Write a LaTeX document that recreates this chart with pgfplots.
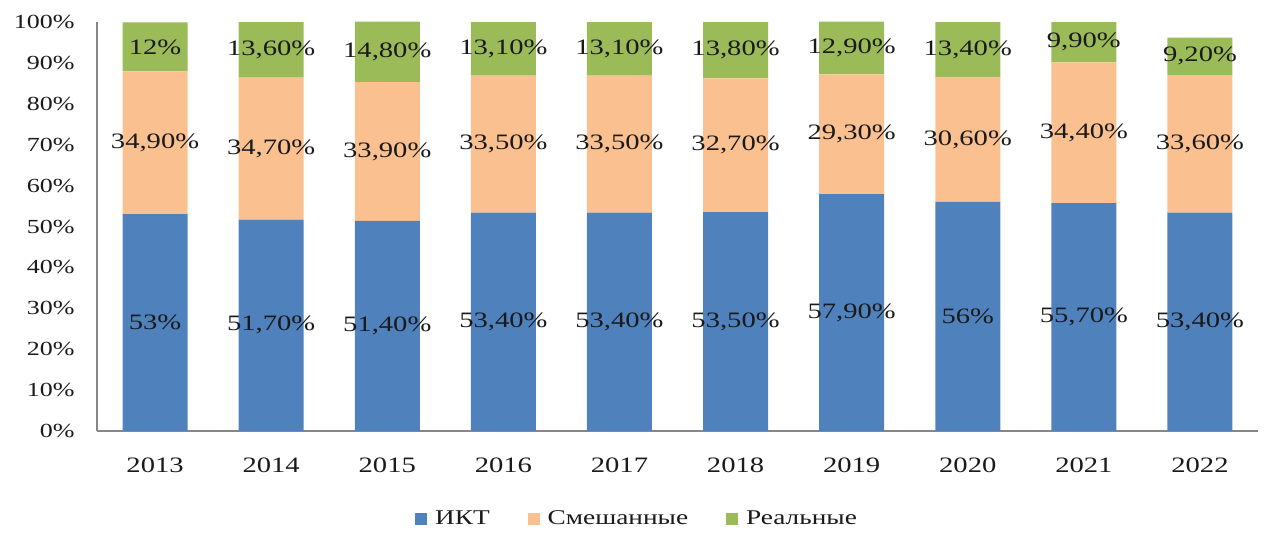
\documentclass[border=0pt]{standalone}
\usepackage{pgfplots}
\usepackage{pgfplotstable}
\usepackage{fontspec}
\setmainfont{Liberation Serif}[FakeStretch=1.3]
\pgfplotsset{compat=1.18}
\definecolor{cikt}{HTML}{4F81BD}
\definecolor{csme}{HTML}{FAC090}
\definecolor{creal}{HTML}{9BBB59}
\definecolor{caxis}{HTML}{878787}
\definecolor{ctext}{HTML}{1A1A1A}
\pgfplotstableread{
x y label
0 53.0 53
1 51.7 51,70
2 51.4 51,40
3 53.4 53,40
4 53.4 53,40
5 53.5 53,50
6 57.9 57,90
7 56.0 56
8 55.7 55,70
9 53.4 53,40
}\ikt
\pgfplotstableread{
x y label
0 34.9 34,90
1 34.7 34,70
2 33.9 33,90
3 33.5 33,50
4 33.5 33,50
5 32.7 32,70
6 29.3 29,30
7 30.6 30,60
8 34.4 34,40
9 33.6 33,60
}\sme
\pgfplotstableread{
x y label
0 12.0 12
1 13.6 13,60
2 14.8 14,80
3 13.1 13,10
4 13.1 13,10
5 13.8 13,80
6 12.9 12,90
7 13.4 13,40
8 9.9 9,90
9 9.2 9,20
}\real
\begin{document}
\begin{tikzpicture}
\path[use as bounding box] (0,0) rectangle (643bp,272bp);
\begin{axis}[
  at={(48.5bp,56.5bp)}, anchor=south west,
  scale only axis, width=580.5bp, height=204.7bp,
  ybar stacked, bar width=32.5bp,
  xmin=-0.5, xmax=9.5, ymin=0, ymax=100.1,
  xtick={0,...,9},
  xticklabels={2013,2014,2015,2016,2017,2018,2019,2020,2021,2022},
  ytick={0,10,...,100},
  yticklabels={0\%,10\%,20\%,30\%,40\%,50\%,60\%,70\%,80\%,90\%,100\%},
  axis x line*=bottom, axis y line*=left,
  axis line style={caxis, line width=1pt, -},
  major tick length=0pt,
  tick style={draw=none},
  xticklabel style={font=\fontsize{11bp}{13bp}\selectfont, text=ctext, inner sep=0pt, anchor=north, yshift=-13bp},
  yticklabel style={font=\fontsize{10bp}{12bp}\selectfont, text=ctext, inner sep=0pt, anchor=east, xshift=-11bp},
  point meta=explicit symbolic,
  nodes near coords={\pgfplotspointmeta\%},
  every node near coord/.append style={font=\fontsize{11bp}{13bp}\selectfont, text=ctext, anchor=center},
  legend image code/.code={\fill[#1,draw=none] (0bp,-3bp) rectangle (6bp,3bp);},
  legend style={at={(0.4677,-0.215)}, anchor=center, draw=none, legend columns=-1,
    font=\fontsize{10.5bp}{12bp}\selectfont, text=ctext,
    nodes={inner xsep=4bp},
    /tikz/every even column/.append style={column sep=15bp}},
  legend cell align=left,
]
\addplot[fill=cikt, draw=none] table[x=x,y=y,meta=label] {\ikt};
\addplot[fill=csme, draw=none] table[x=x,y=y,meta=label] {\sme};
\addplot[fill=creal, draw=none] table[x=x,y=y,meta=label] {\real};
\legend{ИКТ,Смешанные,Реальные}
\end{axis}
\end{tikzpicture}
\end{document}
